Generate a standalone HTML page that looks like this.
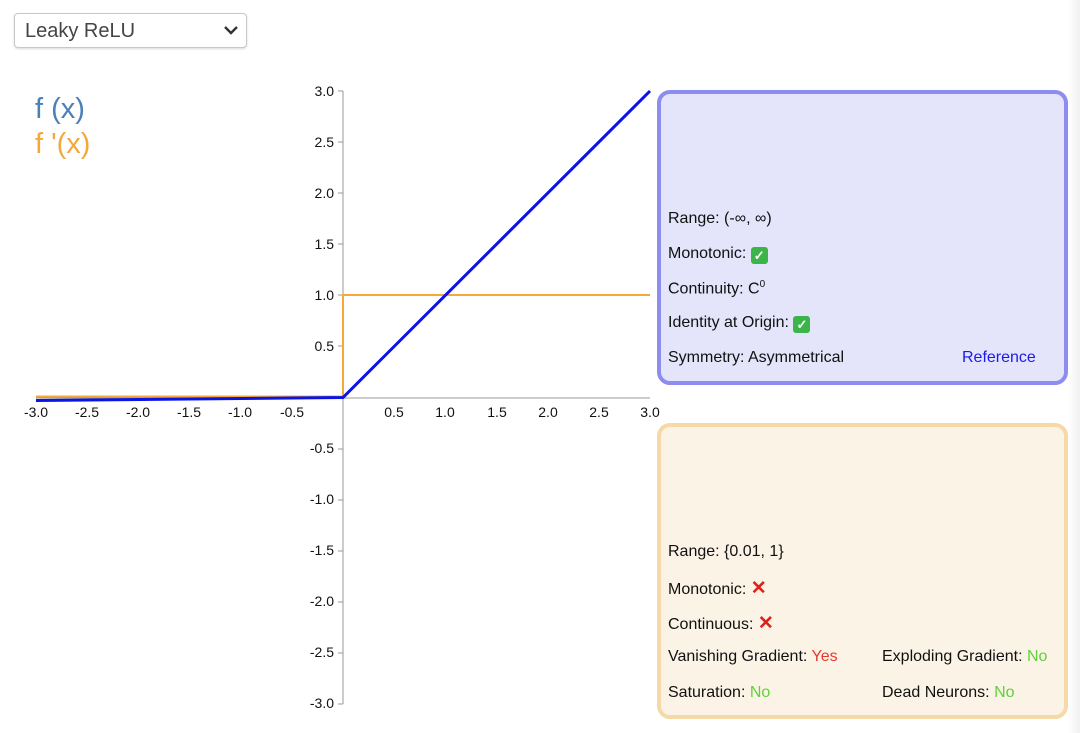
<!DOCTYPE html>
<html><head><meta charset="utf-8"><style>
body{margin:0;width:1080px;height:733px;background:#fff;font-family:"Liberation Sans",sans-serif;position:relative;overflow:hidden}
.sel{position:absolute;left:14px;top:13px;width:233px;height:35px;border:1px solid #c8c8c8;border-radius:4px;box-shadow:0 1px 2px rgba(0,0,0,.15);box-sizing:border-box;font-size:20px;color:#444;padding:6px 10px}
.sel svg{position:absolute;right:8px;top:12px}
.box{position:absolute;left:657px;width:411px;border-radius:13px;box-sizing:border-box;font-size:16px;color:#111;z-index:2}
.b1{top:90px;height:295px;background:#e4e4fb;border:4px solid #8d8df0}
.b2{top:423px;height:296px;background:#fcf3e7;border:4px solid #f6d9a6}
.ln{position:absolute;left:7px}
.ck{display:inline-block;width:17px;height:17px;background:#3bb54a;border-radius:3px;color:#fff;font-size:13px;line-height:17px;text-align:center;vertical-align:-2px;font-weight:bold}
.x{color:#e0201b;font-weight:bold;font-size:19px}
.r{color:#e8382e}.g{color:#5fd13a}
.edge{position:absolute;right:0;top:0;width:12px;height:733px;background:linear-gradient(to right,#fff,#f0f0f0);z-index:1}
</style></head><body>
<div class="sel">Leaky ReLU<svg width="14" height="9"><path d="M1 1l6 6 6-6" stroke="#333" stroke-width="2.4" fill="none"/></svg></div>
<div style="position:absolute;left:35px;top:93px;font-size:29px;color:#4a7fb8">f (x)</div>
<div style="position:absolute;left:35px;top:128px;font-size:29px;color:#f2a93a">f '(x)</div>
<svg style="position:absolute;left:0;top:0" width="660" height="733" font-size="14" font-family="Liberation Sans,sans-serif">
<g stroke="#999" stroke-width="1">
<line x1="343" y1="91" x2="343" y2="704"/><line x1="36" y1="398" x2="650" y2="398"/>
</g>
<g text-anchor="end" fill="#111">
<text x="334" y="96">3.0</text><text x="334" y="147">2.5</text><text x="334" y="198">2.0</text><text x="334" y="249">1.5</text><text x="334" y="300">1.0</text><text x="334" y="351">0.5</text>
<text x="334" y="453">-0.5</text><text x="334" y="504">-1.0</text><text x="334" y="555">-1.5</text><text x="334" y="606">-2.0</text><text x="334" y="657">-2.5</text><text x="334" y="708">-3.0</text>
</g>
<g stroke="#999"><line x1="338" y1="91" x2="343" y2="91"/><line x1="338" y1="142" x2="343" y2="142"/><line x1="338" y1="193" x2="343" y2="193"/><line x1="338" y1="244" x2="343" y2="244"/><line x1="338" y1="295" x2="343" y2="295"/><line x1="338" y1="346" x2="343" y2="346"/><line x1="338" y1="449" x2="343" y2="449"/><line x1="338" y1="500" x2="343" y2="500"/><line x1="338" y1="551" x2="343" y2="551"/><line x1="338" y1="602" x2="343" y2="602"/><line x1="338" y1="653" x2="343" y2="653"/><line x1="338" y1="704" x2="343" y2="704"/></g>
<g text-anchor="middle" fill="#111">
<text x="36" y="417">-3.0</text><text x="87" y="417">-2.5</text><text x="138" y="417">-2.0</text><text x="189" y="417">-1.5</text><text x="240" y="417">-1.0</text><text x="292" y="417">-0.5</text>
<text x="394" y="417">0.5</text><text x="445" y="417">1.0</text><text x="497" y="417">1.5</text><text x="548" y="417">2.0</text><text x="599" y="417">2.5</text><text x="650" y="417">3.0</text>
</g>
<polyline points="36,396.5 343,396.5 343,295 650,295" fill="none" stroke="#f5a93a" stroke-width="2"/>
<polyline points="36,400.5 343,397.5 650,91" fill="none" stroke="#0a14e8" stroke-width="3"/>
</svg>
<div class="box b1">
<div class="ln" style="top:116px">Range: (-∞, ∞)</div>
<div class="ln" style="top:151px">Monotonic: <span class="ck">✓</span></div>
<div class="ln" style="top:185px">Continuity: C<sup style="font-size:10px">0</sup></div>
<div class="ln" style="top:220px">Identity at Origin: <span class="ck">✓</span></div>
<div class="ln" style="top:255px">Symmetry: Asymmetrical</div>
<div class="ln" style="top:255px;left:301px;color:#1a1aee">Reference</div>
</div>
<div class="box b2">
<div class="ln" style="top:116px">Range: {0.01, 1}</div>
<div class="ln" style="top:150px">Monotonic: <span class="x">✕</span></div>
<div class="ln" style="top:185px">Continuous: <span class="x">✕</span></div>
<div class="ln" style="top:221px">Vanishing Gradient: <span class="r">Yes</span></div>
<div class="ln" style="top:221px;left:221px">Exploding Gradient: <span class="g">No</span></div>
<div class="ln" style="top:257px">Saturation: <span class="g">No</span></div>
<div class="ln" style="top:257px;left:221px">Dead Neurons: <span class="g">No</span></div>
</div>
<div class="edge"></div>
</body></html>
